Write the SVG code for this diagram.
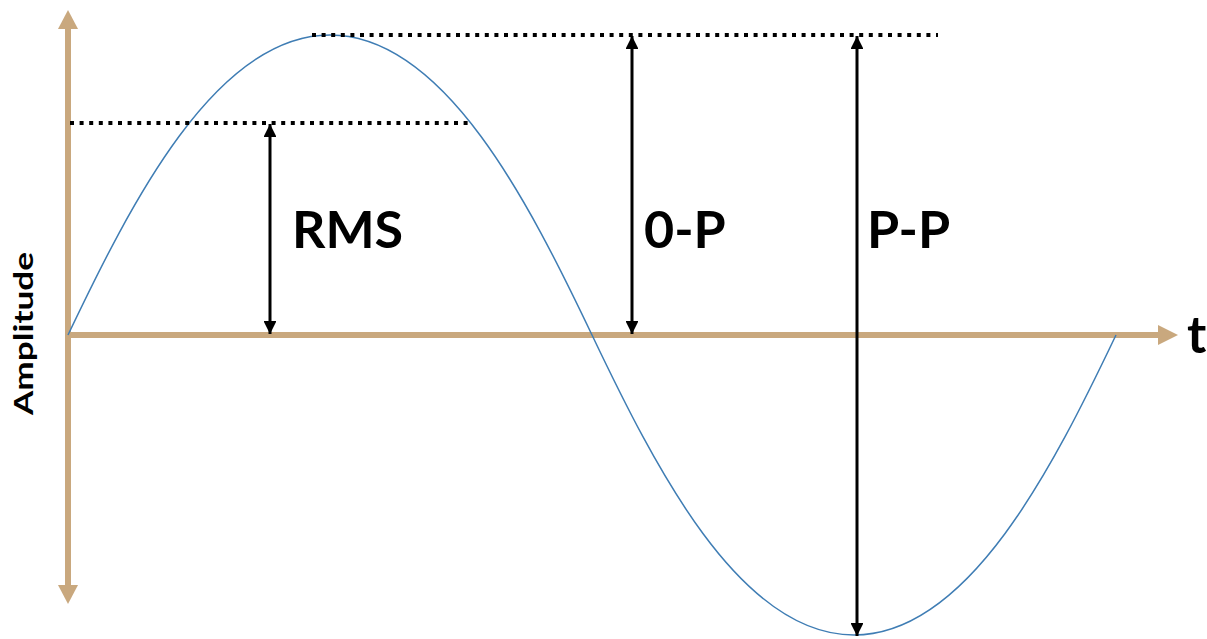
<svg xmlns="http://www.w3.org/2000/svg" width="1207" height="639" viewBox="0 0 1207 639">
<style>
.axis{stroke:#c9a87e;stroke-width:6;fill:none}
.dot{stroke:#000;stroke-width:4;stroke-dasharray:4 5.6;fill:none}
.arr{stroke:#000;stroke-width:3;fill:none;marker-start:url(#ah);marker-end:url(#ah)}
.lbl{font-family:Lato,"Liberation Sans",sans-serif;font-weight:700;font-size:52px;fill:#000}
</style>
<defs>
<marker id="ah" viewBox="0 0 10 10" refX="10" refY="5" markerWidth="4.3" markerHeight="4.3" orient="auto-start-reverse" markerUnits="strokeWidth"><path d="M0,0 L10,5 L0,10 Z" fill="#000"/></marker>
</defs>
<g id="axes">
<line class="axis" x1="68" y1="28" x2="68" y2="586"/>
<path d="M58,29 L68,10 L78,29 Z" fill="#c9a87e"/>
<path d="M58,585 L68,604 L78,585 Z" fill="#c9a87e"/>
<line class="axis" x1="68" y1="335" x2="1159" y2="335"/>
<path d="M1158,325 L1178,335 L1158,345 Z" fill="#c9a87e"/>
</g>
<g id="wave">
<path d="M68,335 C130,205 215,35 330,35 C445,35 530,205 592,335 C654,465 739,635 854,635 C969,635 1054,465 1116,335" fill="none" stroke="#3f7db4" stroke-width="1.5"/>
</g>
<g id="guides">
<line class="dot" x1="70" y1="123" x2="473" y2="123"/>
<line class="dot" x1="312" y1="35" x2="938" y2="35"/>
</g>
<g id="connectors">
<line class="arr" x1="270" y1="124" x2="270" y2="334"/>
<line class="arr" x1="632" y1="36" x2="632" y2="334"/>
<line class="arr" x1="857" y1="36" x2="857" y2="636"/>
</g>
<g id="labels">
<text class="lbl" x="292" y="248">RMS</text>
<text class="lbl" x="644" y="248">0-P</text>
<text class="lbl" x="867" y="248">P-P</text>
<text class="lbl" x="1187" y="353">t</text>
<text transform="translate(33,415) rotate(-90)" font-family="Lato,'Liberation Sans',sans-serif" font-weight="700" font-size="27" textLength="163" lengthAdjust="spacingAndGlyphs" fill="#000">Amplitude</text>
</g>
</svg>
